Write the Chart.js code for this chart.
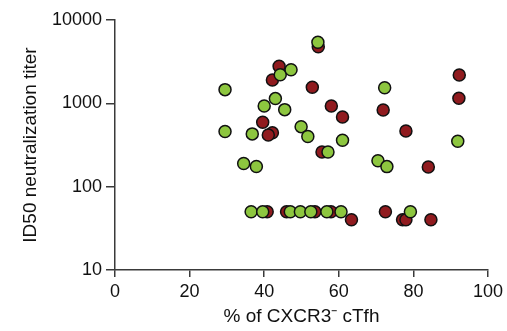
<!DOCTYPE html>
<html>
<head>
<meta charset="utf-8">
<script src="https://cdn.jsdelivr.net/npm/chart.js@4"></script>
<style>
  html, body { margin: 0; padding: 0; background: #fff; }
  #wrap { width: 507px; height: 331px; }
</style>
</head>
<body>
<div id="wrap"><canvas id="c" width="507" height="331"></canvas></div>
<script>
// % of CXCR3- cTfh (x) against ID50 neutralization titer (y), two groups
const greenX = [29.5, 29.5, 36.8, 34.5, 37.9, 40.0, 43.0, 45.5, 44.3, 47.2, 49.9, 51.7, 61.0, 57.1, 54.4, 72.3, 70.5, 72.9, 91.9,
                36.5, 39.6, 47.0, 49.7, 52.5, 56.8, 60.6, 79.2];
const greenY = [1460, 460, 430, 190, 175, 930, 1140, 840, 2200, 2530, 525, 400, 360, 261, 5400, 1540, 205, 174, 350,
                50, 50, 50, 50, 50, 50, 50, 50];

const redX = [44.0, 42.2, 54.5, 52.9, 58.0, 61.0, 71.9, 78.0, 92.3, 92.2, 84.0, 55.5, 39.6, 42.2, 41.1,
              40.8, 46.0, 53.6, 57.9, 72.5,
              63.4, 77.1, 78.0, 84.7];
const redY = [2780, 1905, 4780, 1556, 930, 686, 832, 466, 2190, 1150, 172, 261, 592, 444, 417,
              50, 50, 50, 50, 50,
              40, 40, 40, 40];

const xTicks = [0, 20, 40, 60, 80, 100];
const yTicks = [10, 100, 1000, 10000];

const toPoints = (xs, ys) => xs.map((x, i) => ({ x: x, y: ys[i] }));

const axisColor = '#3a3a3a';
const fontFamily = '"Liberation Sans", Arial, Helvetica, sans-serif';

new Chart(document.getElementById('c'), {
  type: 'scatter',
  data: {
    datasets: [
      {
        label: 'green',
        data: toPoints(greenX, greenY),
        backgroundColor: '#8dc63f',
        borderColor: '#111',
        borderWidth: 1.5,
        pointRadius: 6,
        pointHoverRadius: 6
      },
      {
        label: 'red',
        data: toPoints(redX, redY),
        backgroundColor: '#901b1f',
        borderColor: '#111',
        borderWidth: 1.5,
        pointRadius: 6,
        pointHoverRadius: 6
      }
    ]
  },
  options: {
    responsive: false,
    animation: false,
    devicePixelRatio: 1,
    layout: { padding: { top: 20, right: 18, left: 19, bottom: 0 } },
    plugins: {
      legend: { display: false },
      tooltip: { enabled: false }
    },
    scales: {
      x: {
        type: 'linear',
        min: 0,
        max: 100,
        afterBuildTicks: s => { s.ticks = xTicks.map(v => ({ value: v })); },
        afterFit: s => { s.height = 61; },
        grid: { display: true, drawOnChartArea: false, drawTicks: true, tickLength: 7, color: axisColor, lineWidth: 1.5 },
        border: { display: true, color: axisColor, width: 1.5 },
        ticks: { color: '#111', font: { family: fontFamily, size: 18 }, padding: 4, maxRotation: 0 },
        title: {
          display: true,
          text: '% of CXCR3\u207B cTfh',
          color: '#111',
          font: { family: fontFamily, size: 19 },
          padding: { top: 0, bottom: 3 }
        }
      },
      y: {
        type: 'logarithmic',
        min: 10,
        max: 10000,
        afterBuildTicks: s => { s.ticks = yTicks.map(v => ({ value: v })); },
        afterFit: s => { s.width = 96; },
        grid: { display: true, drawOnChartArea: false, drawTicks: true, tickLength: 9, color: axisColor, lineWidth: 1.5 },
        border: { display: true, color: axisColor, width: 1.5 },
        ticks: {
          color: '#111',
          font: { family: fontFamily, size: 18 },
          padding: 4,
          callback: v => String(v)
        },
        title: {
          display: true,
          text: 'ID50 neutralization titer',
          color: '#111',
          font: { family: fontFamily, size: 19 },
          padding: { top: 0, bottom: 0 }
        }
      }
    }
  }
});
</script>
</body>
</html>
